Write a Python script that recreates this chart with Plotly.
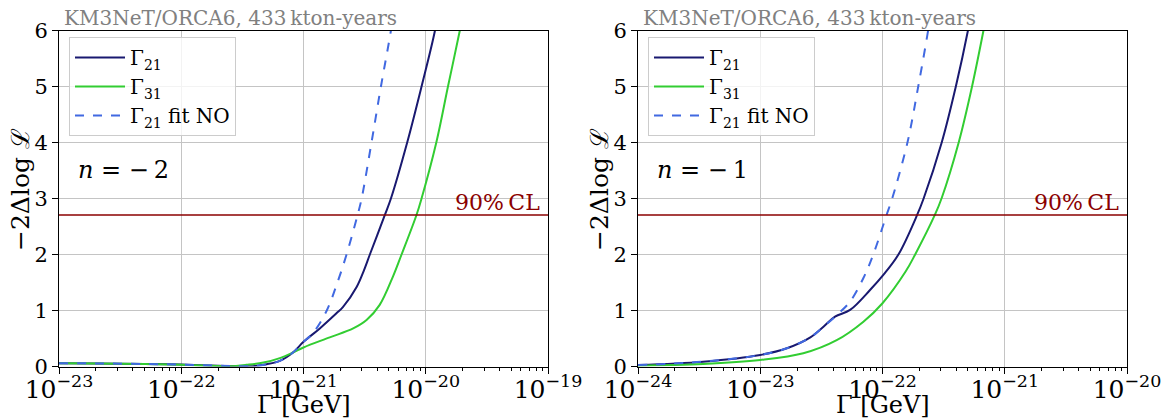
import plotly.graph_objects as go

# ---------------- data ----------------
# left panel, n = -2
L_G21_x = [1e-23, 2e-23, 5e-23, 1e-22, 2e-22, 3e-22, 4e-22, 5e-22, 6.4e-22, 8.2e-22, 1e-21,
           1.36e-21, 1.86e-21, 2.1e-21, 2.72e-21, 3.1e-21, 3.49e-21, 4.63e-21, 5.19e-21,
           7.05e-21, 9.24e-21, 1.19e-20, 1.3e-20]
L_G21_y = [0.06, 0.055, 0.045, 0.035, 0.015, 0.005, 0.01, 0.04, 0.10, 0.25, 0.44,
           0.68, 0.95, 1.06, 1.42, 1.7, 2.0, 2.706, 3.0, 4.0, 5.0, 6.0, 6.5]

L_G31_x = [1e-23, 2e-23, 5e-23, 1e-22, 2e-22, 2.5e-22, 3.4e-22, 4.7e-22, 6.4e-22, 8.2e-22, 1e-21,
           1.64e-21, 2.55e-21, 3.28e-21, 4.2e-21, 5.4e-21, 6.34e-21, 8.4e-21, 9.24e-21,
           1.22e-20, 1.52e-20, 1.9e-20, 2.1e-20]
L_G31_y = [0.06, 0.055, 0.045, 0.03, 0.01, 0.005, 0.03, 0.07, 0.15, 0.25, 0.34,
           0.52, 0.68, 0.83, 1.10, 1.61, 2.0, 2.706, 3.0, 4.0, 5.0, 6.0, 6.5]

L_FIT_x = [1e-23, 2e-23, 5e-23, 1e-22, 2e-22, 3e-22, 4e-22, 5e-22, 6.4e-22, 8.2e-22, 1e-21,
           1.2e-21, 1.55e-21, 1.86e-21, 2.25e-21, 2.77e-21, 2.99e-21, 3.6e-21, 4.3e-21,
           5.19e-21, 5.6e-21]
L_FIT_y = [0.06, 0.055, 0.045, 0.035, 0.015, 0.005, 0.01, 0.04, 0.10, 0.25, 0.44,
           0.6, 1.0, 1.45, 2.0, 2.706, 3.0, 4.0, 5.0, 6.0, 6.5]

# right panel, n = -1
R_G21_x = [1e-24, 3.4e-24, 1e-23, 1.65e-23, 2.57e-23, 3.29e-23, 4.09e-23, 5.43e-23, 7.94e-23,
           1.02e-22, 1.35e-22, 1.92e-22, 2.17e-22, 3.05e-22, 3.98e-22, 5.0e-22, 5.5e-22]
R_G21_y = [0.025, 0.086, 0.206, 0.325, 0.52, 0.71, 0.89, 1.01, 1.37,
           1.64, 2.0, 2.706, 3.0, 4.0, 5.0, 6.0, 6.5]

R_G31_x = [1e-24, 3.4e-24, 1e-23, 2.25e-23, 4.22e-23, 6.98e-23, 1e-22, 1.55e-22, 1.85e-22,
           2.68e-22, 3.04e-22, 4.2e-22, 5.4e-22, 6.7e-22, 7.4e-22]
R_G31_y = [0.015, 0.045, 0.116, 0.236, 0.47, 0.80, 1.13, 1.70, 2.0,
           2.706, 3.0, 4.0, 5.0, 6.0, 6.5]

R_FIT_x = [1e-24, 3.4e-24, 1e-23, 1.65e-23, 2.57e-23, 3.29e-23, 4.09e-23, 5.43e-23, 6.98e-23,
           8.4e-23, 1.08e-22, 1.2e-22, 1.6e-22, 1.96e-22, 2.36e-22, 2.55e-22]
R_FIT_y = [0.025, 0.086, 0.206, 0.325, 0.52, 0.71, 0.89, 1.16, 1.58,
           2.0, 2.706, 3.0, 4.0, 5.0, 6.0, 6.5]

CL_LEVEL = 2.706
LEFT_XRANGE = [-23, -19]
RIGHT_XRANGE = [-24, -20]
Y_RANGE = [0, 6]
TITLE_TEXT = "KM3NeT/ORCA6, 433\u2009kton-years"
N_LABELS = ["<i>n</i> = \u2212\u20092", "<i>n</i> = \u2212\u20091"]
CL_TEXT = "90%\u2009CL"
NAMES = ["\u0393<sub>21</sub>", "\u0393<sub>31</sub>", "\u0393<sub>21</sub> fit NO"]
X_TITLE = "\u0393 [GeV]"
Y_TITLE = "\u22122\u0394log \u2112"

# ---------------- style ----------------
NAVY = "#191970"
GREEN = "#32CD32"
BLUE = "#4169E1"
DARKRED = "#8B0000"
FONT = "DejaVu Serif"
W, H = 1162, 419

def px_x(p):
    return p / W

def px_y(p):
    return 1 - p / H

fig = go.Figure()

panels = [
    dict(xa="x", ya="y", leg="legend",
         data=[(L_G21_x, L_G21_y), (L_G31_x, L_G31_y), (L_FIT_x, L_FIT_y)]),
    dict(xa="x2", ya="y2", leg="legend2",
         data=[(R_G21_x, R_G21_y), (R_G31_x, R_G31_y), (R_FIT_x, R_FIT_y)]),
]
styles = [dict(color=NAVY, width=2, dash="solid"),
          dict(color=GREEN, width=2, dash="solid"),
          dict(color=BLUE, width=2, dash="dash")]

for p in panels:
    for (xs, ys), st, nm in zip(p["data"], styles, NAMES):
        fig.add_trace(go.Scatter(
            x=xs, y=ys, mode="lines", name=nm,
            line=dict(color=st["color"], width=st["width"], dash=st["dash"],
                      shape="spline", smoothing=1.0),
            xaxis=p["xa"], yaxis=p["ya"], legend=p["leg"], showlegend=True,
            hoverinfo="skip"))

dom_y = [px_y(366.5), px_y(30.5)]
dom_l = [px_x(59), px_x(548)]
dom_r = [px_x(638), px_x(1127)]

xcommon = dict(type="log", dtick=1, exponentformat="power", showexponent="all",
               showline=True, linecolor="black", linewidth=1, mirror=True,
               ticks="outside", ticklen=6, tickcolor="black",
               showgrid=True, gridcolor="#c4c4c4", gridwidth=1,
               tickfont=dict(family=FONT, size=20, color="black"),
               ticklabelstandoff=-5, ticklabeloverflow="allow",
               minor=dict(dtick="D1", ticks="outside", ticklen=3.5, tickcolor="black",
                          showgrid=False),
               automargin=False, zeroline=False)
ycommon = dict(range=Y_RANGE, dtick=1, showline=True, linecolor="black", linewidth=1,
               mirror=True, ticks="outside", ticklen=6, tickcolor="black",
               showgrid=True, gridcolor="#c4c4c4", gridwidth=1, zeroline=False,
               tickfont=dict(family=FONT, size=21, color="black"),
               automargin=False)

fig.update_layout(
    width=W, height=H,
    margin=dict(l=0, r=0, t=0, b=0),
    paper_bgcolor="white", plot_bgcolor="white",
    font=dict(family=FONT, color="black"),
    xaxis=dict(domain=dom_l, range=LEFT_XRANGE, anchor="y", **xcommon),
    yaxis=dict(domain=dom_y, anchor="x", **ycommon),
    xaxis2=dict(domain=dom_r, range=RIGHT_XRANGE, anchor="y2", **xcommon),
    yaxis2=dict(domain=dom_y, anchor="x2", **ycommon),
)

leg_common = dict(xanchor="left", yanchor="top", bgcolor="rgba(255,255,255,0.8)",
                  bordercolor="#cccccc", borderwidth=1,
                  font=dict(family=FONT, size=20, color="black"),
                  itemwidth=50, tracegroupgap=0, traceorder="normal")
fig.update_layout(
    legend=dict(x=px_x(69), y=px_y(37), **leg_common),
    legend2=dict(x=px_x(648), y=px_y(37), **leg_common),
)

# CL line
for xa, ya in [("x", "y"), ("x2", "y2")]:
    fig.add_shape(type="line", xref=f"{xa} domain", yref=ya, x0=0, x1=1,
                  y0=CL_LEVEL, y1=CL_LEVEL, line=dict(color=DARKRED, width=1.5))

# annotations
offsets = [0, 579]
for i, off in enumerate(offsets):
    fig.add_annotation(text=TITLE_TEXT, xref="paper", yref="paper",
                       x=px_x(62 + off), y=px_y(18), xanchor="left", yanchor="middle",
                       showarrow=False, font=dict(family=FONT, size=20, color="#808080"))
    fig.add_annotation(text=N_LABELS[i], xref="paper", yref="paper",
                       x=px_x(76 + off), y=px_y(170), xanchor="left", yanchor="middle",
                       showarrow=False, font=dict(family=FONT, size=24, color="black"))
    fig.add_annotation(text=CL_TEXT, xref="paper", yref="paper",
                       x=px_x(542 + off), y=px_y(202), xanchor="right", yanchor="middle",
                       showarrow=False, font=dict(family=FONT, size=22, color=DARKRED))
    fig.add_annotation(text=X_TITLE, xref="paper", yref="paper",
                       x=px_x(303.5 + off), y=px_y(405), xanchor="center", yanchor="middle",
                       showarrow=False, font=dict(family=FONT, size=24, color="black"))
    fig.add_annotation(text=Y_TITLE, xref="paper", yref="paper", textangle=-90,
                       x=px_x(20 + off), y=px_y(190), xanchor="center", yanchor="middle",
                       showarrow=False, font=dict(family=FONT, size=25, color="black"))

fig.write_html("out.html", config={"displayModeBar": False},
               post_script="document.body.style.margin='0';document.body.style.overflow='hidden';")
